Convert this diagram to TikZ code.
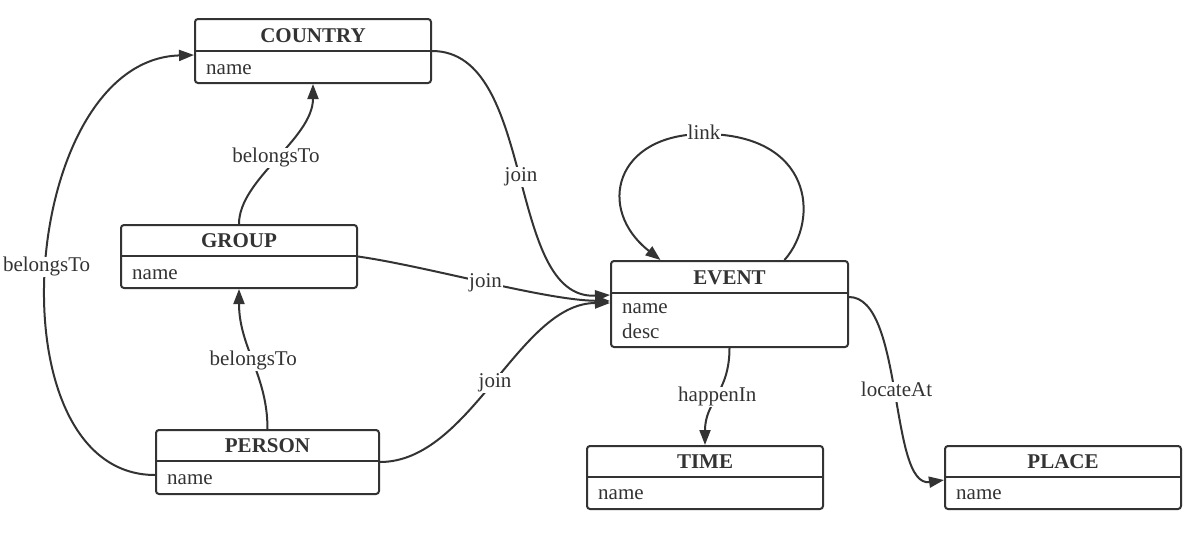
\documentclass[tikz,border=0pt]{standalone}
\usepackage{fontspec}
\setmainfont{Liberation Serif}
\usetikzlibrary{arrows.meta,calc}
\definecolor{ink}{HTML}{333333}
\tikzset{
  ebox/.style={draw=ink, line width=2pt, rounded corners=3pt, fill=white, inner sep=0pt},
  etitle/.style={text=ink, font=\fontsize{21}{25}\selectfont\bfseries, inner sep=0pt, anchor=base},
  efield/.style={text=ink, font=\fontsize{21}{25}\selectfont, inner sep=0pt, anchor=base west},
  rel/.style={draw=ink, line width=2pt, -{Triangle[length=15pt,width=11pt]}},
  lbl/.style={text=ink, font=\fontsize{21}{25}\selectfont, fill=white, inner sep=1pt, text height=14pt, text depth=4pt}
}
\newcommand\erbox[7]{%
  \node[ebox, minimum width={#4-#2}, minimum height={#5-#3}] (#1) at ({(#2+#4)/2},{(#3+#5)/2}) {};
  \draw[ink, line width=2pt] (#2,#6) -- (#4,#6);
  \node[etitle] (#1-t) at ({(#2+#4)/2},{#6-9}) {#7};
}
\begin{document}
\begin{tikzpicture}[x=1pt,y=-1pt]
\useasboundingbox (0,0) rectangle (1194,557);
\erbox{country}{195}{19}{431}{83}{51}{COUNTRY}
\node[efield] (country-f1) at (206,74) {name};
\erbox{group}{121}{225}{357}{288}{256}{GROUP}
\node[efield] (group-f1) at (132,279) {name};
\erbox{person}{156}{430}{379}{494}{461}{PERSON}
\node[efield] (person-f1) at (167,484) {name};
\erbox{event}{611}{261}{848}{347}{293}{EVENT}
\node[efield] (event-f1) at (622,313.5) {name};
\node[efield] (event-f2) at (622,338.5) {desc};
\erbox{time}{587}{446}{823}{509}{477}{TIME}
\node[efield] (time-f1) at (598,499.5) {name};
\erbox{place}{945}{446}{1181}{509}{477}{PLACE}
\node[efield] (place-f1) at (956,499.5) {name};

\draw[rel] (country.east) .. controls +(105,0) and +(-105,5) .. ($(event.west)+(0,-9)$)
  node[lbl, pos=0.5, yshift=-2pt] (l1) {join};
\draw[rel] (group.east) .. controls +(70,10) and +(-66,-1) .. ($(event.west)+(0,-3)$)
  node[lbl, pos=0.5] (l2) {join};
\draw[rel] (person.east) .. controls +(91,0) and +(-91,0) .. ($(event.west)+(0,-1)$)
  node[lbl, pos=0.5] (l3) {join};
\draw[rel] (group.north) .. controls +(0,-45) and +(0,55) .. (country.south)
  node[lbl, pos=0.5] (l4) {belongsTo};
\draw[rel] (person.north) .. controls +(0,-54) and +(0,58) .. (group.south)
  node[lbl, pos=0.5] (l5) {belongsTo};
\draw[rel] ($(person.west)+(0,13)$) .. controls +(-166,0) and +(-175,5) .. ($(country.west)+(0,4)$)
  node[lbl, pos=0.5] (l6) {belongsTo};
\draw[rel] ($(event.north)+(55,0)$) .. controls +(36,-41) and +(108,0) .. ($(event.north)+(-25.5,-126)$)
  node[lbl] (l7) {link}
  .. controls +(-89,0) and +(-65,-51) .. ($(event.north)+(-69,0)$);
\draw[rel] (event.south) .. controls +(0,45) and +(0,-44) .. (time.north)
  node[lbl, pos=0.5] (l8) {happenIn};
\draw[rel] ($(event.east)+(0,-7)$) .. controls +(55,0) and +(-55,8) .. ($(place.west)+(0,2.5)$)
  node[lbl, pos=0.5] (l9) {locateAt};
\end{tikzpicture}
\end{document}
